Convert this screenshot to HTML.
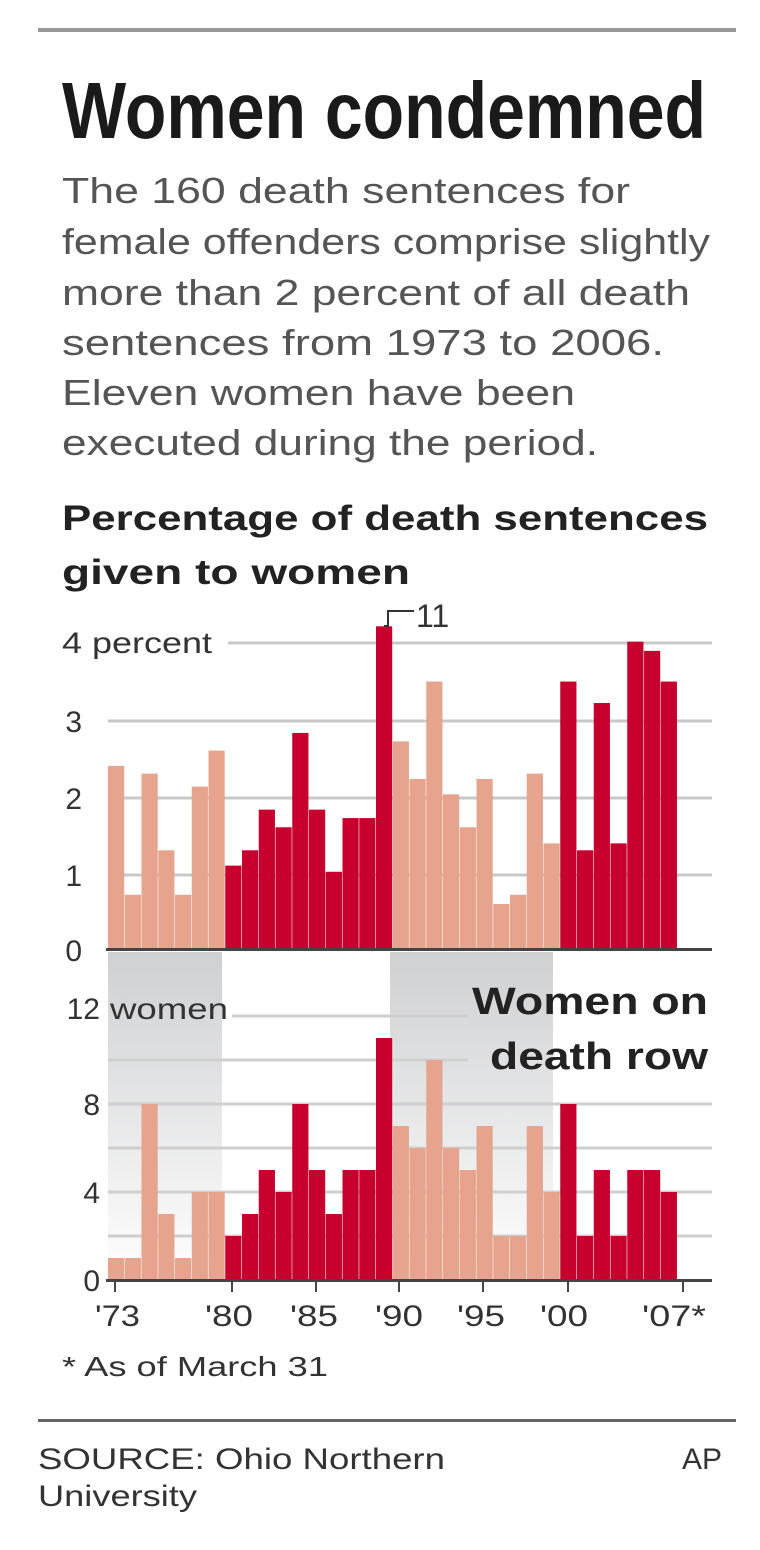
<!DOCTYPE html>
<html><head><meta charset="utf-8"><style>body{margin:0;background:#fff}svg{display:block}</style></head>
<body>
<svg width="760" height="1550" xmlns="http://www.w3.org/2000/svg" font-family="Liberation Sans, sans-serif">
<defs>
<linearGradient id="g" x1="0" y1="0" x2="0" y2="1">
<stop offset="0" stop-color="#cfd0d2"/><stop offset="1" stop-color="#ffffff"/>
</linearGradient>
</defs>
<rect x="38" y="28" width="698" height="4" fill="#999"/>
<text x="62" y="138" font-size="80" font-weight="bold" fill="#1a1a1a" textLength="644" lengthAdjust="spacingAndGlyphs">Women condemned</text>
<g font-size="36" fill="#555">
<text x="62" y="203" textLength="568" lengthAdjust="spacingAndGlyphs">The 160 death sentences for</text>
<text x="62" y="254" textLength="648" lengthAdjust="spacingAndGlyphs">female offenders comprise slightly</text>
<text x="62" y="305" textLength="628" lengthAdjust="spacingAndGlyphs">more than 2 percent of all death</text>
<text x="62" y="355" textLength="602" lengthAdjust="spacingAndGlyphs">sentences from 1973 to 2006.</text>
<text x="62" y="405" textLength="513" lengthAdjust="spacingAndGlyphs">Eleven women have been</text>
<text x="62" y="455" textLength="536" lengthAdjust="spacingAndGlyphs">executed during the period.</text>
</g>
<g font-size="35" font-weight="bold" fill="#222">
<text x="62" y="530" textLength="646" lengthAdjust="spacingAndGlyphs">Percentage of death sentences</text>
<text x="62" y="584" textLength="348" lengthAdjust="spacingAndGlyphs">given to women</text>
</g>
<rect x="108" y="952" width="114" height="328" fill="url(#g)"/>
<rect x="390" y="952" width="163" height="328" fill="url(#g)"/>
<g stroke="#c8c8c8" stroke-width="3">
<line x1="228" y1="643" x2="712" y2="643"/>
<line x1="108" y1="721" x2="712" y2="721"/>
<line x1="108" y1="798" x2="712" y2="798"/>
<line x1="108" y1="875" x2="712" y2="875"/>
</g>
<g stroke="#cfcfcf" stroke-width="3">
<line x1="232" y1="1016" x2="468" y2="1016"/>
<line x1="108" y1="1060" x2="468" y2="1060"/>
<line x1="108" y1="1104" x2="712" y2="1104"/>
<line x1="108" y1="1148" x2="712" y2="1148"/>
<line x1="108" y1="1192" x2="712" y2="1192"/>
<line x1="108" y1="1236" x2="712" y2="1236"/>
</g>
<g transform="translate(0,950) scale(1,-76.7)">
<g fill="#e6a48e">
<rect x="108" y="0" width="16.2" height="2.4"/>
<rect x="124.75" y="0" width="16.2" height="0.72"/>
<rect x="141.5" y="0" width="16.2" height="2.3"/>
<rect x="158.25" y="0" width="16.2" height="1.3"/>
<rect x="175" y="0" width="16.2" height="0.72"/>
<rect x="191.75" y="0" width="16.2" height="2.13"/>
<rect x="208.5" y="0" width="16.2" height="2.6"/>
<rect x="392.75" y="0" width="16.2" height="2.72"/>
<rect x="409.5" y="0" width="16.2" height="2.23"/>
<rect x="426.25" y="0" width="16.2" height="3.5"/>
<rect x="443" y="0" width="16.2" height="2.03"/>
<rect x="459.75" y="0" width="16.2" height="1.6"/>
<rect x="476.5" y="0" width="16.2" height="2.23"/>
<rect x="493.25" y="0" width="16.2" height="0.6"/>
<rect x="510" y="0" width="16.2" height="0.72"/>
<rect x="526.75" y="0" width="16.2" height="2.3"/>
<rect x="543.5" y="0" width="16.2" height="1.39"/>
</g>
<g fill="#c8002e">
<rect x="225.25" y="0" width="16.2" height="1.1"/>
<rect x="242" y="0" width="16.2" height="1.3"/>
<rect x="258.75" y="0" width="16.2" height="1.83"/>
<rect x="275.5" y="0" width="16.2" height="1.6"/>
<rect x="292.25" y="0" width="16.2" height="2.83"/>
<rect x="309" y="0" width="16.2" height="1.83"/>
<rect x="325.75" y="0" width="16.2" height="1.02"/>
<rect x="342.5" y="0" width="16.2" height="1.72"/>
<rect x="359.25" y="0" width="16.2" height="1.72"/>
<rect x="376" y="0" width="16.2" height="4.22"/>
<rect x="560.25" y="0" width="16.2" height="3.5"/>
<rect x="577" y="0" width="16.2" height="1.3"/>
<rect x="593.75" y="0" width="16.2" height="3.22"/>
<rect x="610.5" y="0" width="16.2" height="1.39"/>
<rect x="627.25" y="0" width="16.2" height="4.02"/>
<rect x="644" y="0" width="16.2" height="3.9"/>
<rect x="660.75" y="0" width="16.2" height="3.5"/>
</g>
</g>
<g transform="translate(0,1280) scale(1,-22)">
<g fill="#e6a48e">
<rect x="108" y="0" width="16.2" height="1"/>
<rect x="124.75" y="0" width="16.2" height="1"/>
<rect x="141.5" y="0" width="16.2" height="8"/>
<rect x="158.25" y="0" width="16.2" height="3"/>
<rect x="175" y="0" width="16.2" height="1"/>
<rect x="191.75" y="0" width="16.2" height="4"/>
<rect x="208.5" y="0" width="16.2" height="4"/>
<rect x="392.75" y="0" width="16.2" height="7"/>
<rect x="409.5" y="0" width="16.2" height="6"/>
<rect x="426.25" y="0" width="16.2" height="10"/>
<rect x="443" y="0" width="16.2" height="6"/>
<rect x="459.75" y="0" width="16.2" height="5"/>
<rect x="476.5" y="0" width="16.2" height="7"/>
<rect x="493.25" y="0" width="16.2" height="2"/>
<rect x="510" y="0" width="16.2" height="2"/>
<rect x="526.75" y="0" width="16.2" height="7"/>
<rect x="543.5" y="0" width="16.2" height="4"/>
</g>
<g fill="#c8002e">
<rect x="225.25" y="0" width="16.2" height="2"/>
<rect x="242" y="0" width="16.2" height="3"/>
<rect x="258.75" y="0" width="16.2" height="5"/>
<rect x="275.5" y="0" width="16.2" height="4"/>
<rect x="292.25" y="0" width="16.2" height="8"/>
<rect x="309" y="0" width="16.2" height="5"/>
<rect x="325.75" y="0" width="16.2" height="3"/>
<rect x="342.5" y="0" width="16.2" height="5"/>
<rect x="359.25" y="0" width="16.2" height="5"/>
<rect x="376" y="0" width="16.2" height="11"/>
<rect x="560.25" y="0" width="16.2" height="8"/>
<rect x="577" y="0" width="16.2" height="2"/>
<rect x="593.75" y="0" width="16.2" height="5"/>
<rect x="610.5" y="0" width="16.2" height="2"/>
<rect x="627.25" y="0" width="16.2" height="5"/>
<rect x="644" y="0" width="16.2" height="5"/>
<rect x="660.75" y="0" width="16.2" height="4"/>
</g>
</g>
<rect x="106" y="948" width="606" height="3" fill="#444"/>
<rect x="106" y="1279" width="606" height="3" fill="#444"/>
<polyline points="384,626 388,626 388,611 414,611" fill="none" stroke="#333" stroke-width="2"/>
<text x="416" y="627" font-size="32" fill="#333">11</text>
<g font-size="30" fill="#333">
<text x="62" y="653" textLength="150" lengthAdjust="spacingAndGlyphs">4 percent</text>
<text x="82" y="732" text-anchor="end">3</text>
<text x="82" y="809" text-anchor="end">2</text>
<text x="82" y="886" text-anchor="end">1</text>
<text x="82" y="961" text-anchor="end">0</text>
<text x="100" y="1019" text-anchor="end">12</text>
<text x="110" y="1019" textLength="118" lengthAdjust="spacingAndGlyphs">women</text>
<text x="100" y="1115" text-anchor="end">8</text>
<text x="100" y="1203" text-anchor="end">4</text>
<text x="100" y="1291" text-anchor="end">0</text>
</g>
<g font-size="38" font-weight="bold" fill="#222">
<text x="708" y="1014" text-anchor="end" textLength="236" lengthAdjust="spacingAndGlyphs">Women on</text>
<text x="708" y="1069" text-anchor="end" textLength="218" lengthAdjust="spacingAndGlyphs">death row</text>
</g>
<g stroke="#444" stroke-width="2">
<line x1="115" y1="1280" x2="115" y2="1292"/><line x1="232" y1="1280" x2="232" y2="1292"/>
<line x1="316" y1="1280" x2="316" y2="1292"/><line x1="399" y1="1280" x2="399" y2="1292"/>
<line x1="483" y1="1280" x2="483" y2="1292"/><line x1="568" y1="1280" x2="568" y2="1292"/>
<line x1="683" y1="1280" x2="683" y2="1292"/>
</g>
<g font-size="30" fill="#333">
<text x="95" y="1326" textLength="45" lengthAdjust="spacingAndGlyphs">'73</text>
<text x="205" y="1326" textLength="48" lengthAdjust="spacingAndGlyphs">'80</text>
<text x="290" y="1326" textLength="48" lengthAdjust="spacingAndGlyphs">'85</text>
<text x="375" y="1326" textLength="48" lengthAdjust="spacingAndGlyphs">'90</text>
<text x="457" y="1326" textLength="48" lengthAdjust="spacingAndGlyphs">'95</text>
<text x="540" y="1326" textLength="48" lengthAdjust="spacingAndGlyphs">'00</text>
<text x="642" y="1326" textLength="64" lengthAdjust="spacingAndGlyphs">'07*</text>
<text x="62" y="1376" font-size="28" textLength="266" lengthAdjust="spacingAndGlyphs">* As of March 31</text>
</g>
<rect x="38" y="1419" width="698" height="3" fill="#666"/>
<g font-size="30" fill="#333">
<text x="38" y="1469" textLength="407" lengthAdjust="spacingAndGlyphs">SOURCE: Ohio Northern</text>
<text x="38" y="1506" textLength="159" lengthAdjust="spacingAndGlyphs">University</text>
<text x="722" y="1469" text-anchor="end">AP</text>
</g>
</svg>
</body></html>
